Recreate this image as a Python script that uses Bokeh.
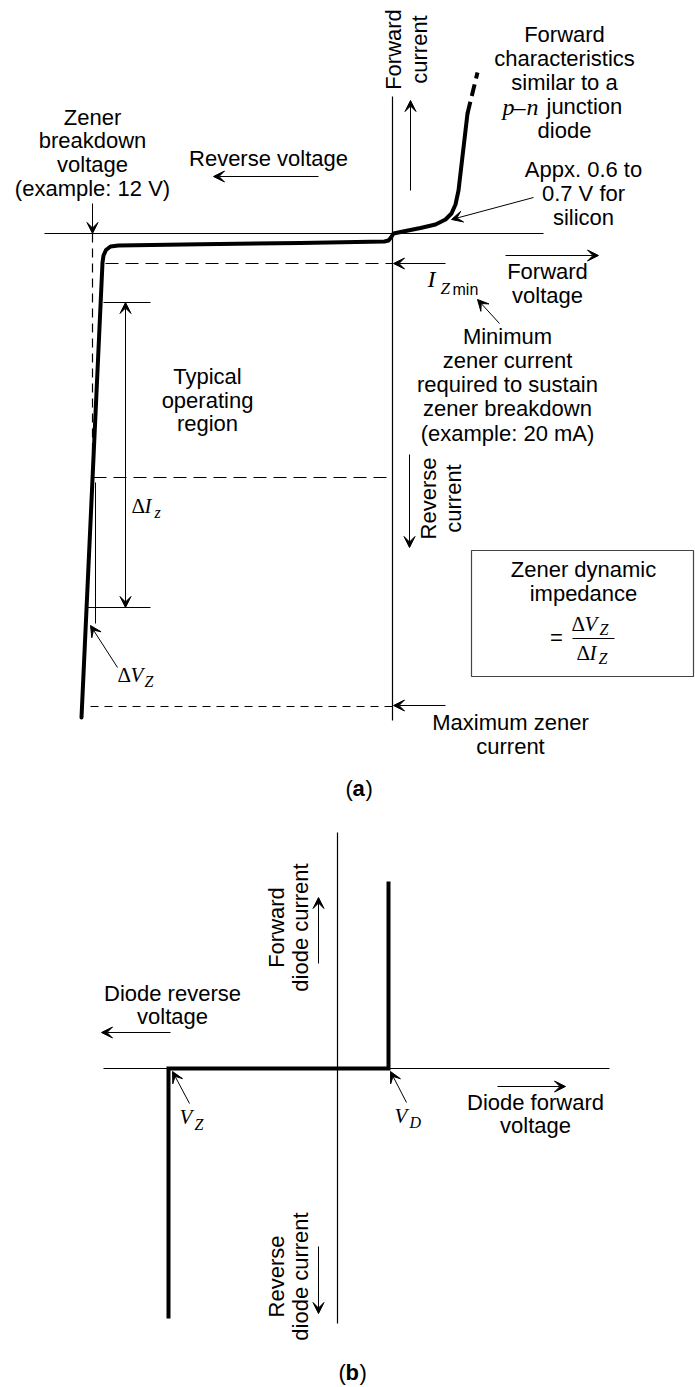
import math
from bokeh.plotting import figure
from bokeh.models import Range1d, Arrow, VeeHead, ColumnDataSource
from bokeh.core.properties import value
from bokeh.embed import file_html
from bokeh.resources import INLINE

W, H = 695, 1387
SANS = "Liberation Sans"
SERIF = "Liberation Serif"
FS = "22px"

# ---------------- data (drawing units, y grows downward) ----------------
# Panel (a): zener characteristic curve
zener_v = [81, 102, 103, 105.5, 110, 118, 200, 300, 384, 388, 390.5, 393,
           405, 420, 435, 445, 451, 455, 458, 467]
zener_i = [717, 262, 255, 249.5, 246, 245, 243.8, 242.5, 241, 240, 237, 233,
           230.5, 227.5, 224, 219, 213, 204, 190, 113]
zener_ext_v = [467, 477]
zener_ext_i = [113, 72]

# Panel (b): ideal zener characteristic
ideal_v = [168, 168, 388, 388]
ideal_i = [1318, 1068, 1068, 881]

# axes lines (x0, y0, x1, y1)
axis_lines = [(44, 233, 543, 233), (392, 96, 392, 720),
              (103, 1068, 609, 1068), (337, 832, 337, 1323)]
thin_lines = [(103, 302, 150, 302), (87, 607, 150, 607), (95, 482, 95, 623),
              (572, 638, 614, 638)]
dashed_lines = [(92, 233, 92, 478, "9 6"), (105, 263, 392, 263, "13 7"),
                (93, 477, 392, 477, "13 7"), (90, 706, 392, 706, "8 6")]

# arrows with head at end (x0, y0, x1, y1)
arrows = [(92, 203, 92, 233), (318, 176, 213, 176), (410, 190, 410, 100),
          (533, 197, 451, 219), (505, 255, 598, 255), (445, 263, 393, 263),
          (499, 323, 477, 299), (409, 454, 409, 547), (445, 705, 393, 705),
          (117, 667, 90, 625),
          (318, 963, 318, 897), (170, 1032, 101, 1032), (189, 1103, 172, 1071),
          (406, 1102, 390, 1071), (497, 1086, 565, 1086), (318, 1246, 318, 1313)]
double_arrows = [(125, 302, 125, 607)]

# plain text lines (x, y, text)
labels = [
    (92, 117, "Zener"), (92, 140, "breakdown"), (92, 164, "voltage"),
    (92, 188, "(example: 12 V)"),
    (268, 158, "Reverse voltage"),
    (564, 34, "Forward"), (564, 58, "characteristics"), (564, 82, "similar to a"),
    (564, 130, "diode"),
    (583, 169, "Appx. 0.6 to"), (583, 193, "0.7 V for"), (583, 217, "silicon"),
    (547, 271, "Forward"), (547, 295, "voltage"),
    (507, 336, "Minimum"), (507, 360, "zener current"),
    (507, 384, "required to sustain"), (507, 408, "zener breakdown"),
    (507, 433, "(example: 20 mA)"),
    (207, 376, "Typical"), (207, 400, "operating"), (207, 423, "region"),
    (583, 569, "Zener dynamic"), (583, 593, "impedance"),
    (556, 637, "="),
    (510, 722, "Maximum zener"), (510, 746, "current"),
    (172, 993, "Diode reverse"), (172, 1016, "voltage"),
    (535, 1102, "Diode forward"), (535, 1125, "voltage"),
]
rot_labels = [
    (393, 49, "Forward"), (419, 49, "current"),
    (428, 498, "Reverse"), (453, 498, "current"),
    (276, 927, "Forward"), (300, 927, "diode current"),
    (276, 1276, "Reverse"), (300, 1276, "diode current"),
]
# math / mixed pieces (x_left, y_middle, text, font, style, size)
math_pieces = [
    (427, 278, "I", SERIF, "italic", "24px"), (440, 288, "Z", SERIF, "italic", "17px"),
    (452, 289, "min", SANS, "normal", "16px"),
    (131, 505, "Δ", SERIF, "normal", "21px"), (144, 505, "I", SERIF, "italic", "21px"),
    (154, 512, "z", SERIF, "italic", "16px"),
    (117, 674, "Δ", SERIF, "normal", "21px"), (130, 674, "V", SERIF, "italic", "21px"),
    (144, 681, "Z", SERIF, "italic", "16px"),
    (571, 623, "Δ", SERIF, "normal", "21px"), (584, 623, "V", SERIF, "italic", "21px"),
    (599, 629, "Z", SERIF, "italic", "16px"),
    (576, 652, "Δ", SERIF, "normal", "21px"), (589, 652, "I", SERIF, "italic", "21px"),
    (598, 658, "Z", SERIF, "italic", "16px"),
    (502, 106, "p", SERIF, "italic", "24px"), (513, 106, "–", SERIF, "normal", "24px"),
    (526, 106, "n", SERIF, "italic", "24px"),
    (546, 106, "junction", SANS, "normal", "22px"),
    (179, 1116, "V", SERIF, "italic", "21px"), (194, 1124, "Z", SERIF, "italic", "16px"),
    (394, 1115, "V", SERIF, "italic", "21px"), (409, 1122, "D", SERIF, "italic", "16px"),
    (345, 788, "(", SANS, "normal", "22px"), (352, 788, "a", SANS, "bold", "22px"),
    (365, 788, ")", SANS, "normal", "22px"),
    (338, 1372, "(", SANS, "normal", "22px"), (345, 1372, "b", SANS, "bold", "22px"),
    (359, 1372, ")", SANS, "normal", "22px"),
]
box = (471, 693, 550, 676)  # left, right, top, bottom

# ---------------- figure ----------------
p = figure(width=W, height=H, x_range=Range1d(0, W), y_range=Range1d(H, 0),
           output_backend="svg", toolbar_location=None,
           x_axis_type=None, y_axis_type=None, min_border=0)
p.grid.visible = False
p.outline_line_color = None
p.background_fill_color = "white"
p.border_fill_color = "white"

p.line(zener_v, zener_i, line_width=4, line_color="black", line_join="round", line_cap="round")
p.line(zener_ext_v, zener_ext_i, line_width=4, line_color="black", line_dash="12 6")
p.line(ideal_v, ideal_i, line_width=4, line_color="black", line_join="miter")

for x0, y0, x1, y1 in axis_lines:
    p.line([x0, x1], [y0, y1], line_width=1.2, line_color="black")
for x0, y0, x1, y1 in thin_lines:
    p.line([x0, x1], [y0, y1], line_width=1, line_color="black")
for x0, y0, x1, y1, d in dashed_lines:
    p.line([x0, x1], [y0, y1], line_width=1.2, line_color="black", line_dash=d)

l, r, t, b = box
p.quad(left=[l], right=[r], top=[t], bottom=[b], fill_alpha=0,
       line_color="#444444", line_width=1.2)

src = ColumnDataSource(dict(x0=[a[0] for a in arrows], y0=[a[1] for a in arrows],
                            x1=[a[2] for a in arrows], y1=[a[3] for a in arrows]))
p.add_layout(Arrow(source=src, x_start="x0", y_start="y0", x_end="x1", y_end="y1",
                   line_width=1, line_color="black",
                   end=VeeHead(size=11, fill_color="black", line_color="black", line_width=1)))
src2 = ColumnDataSource(dict(x0=[a[0] for a in double_arrows], y0=[a[1] for a in double_arrows],
                             x1=[a[2] for a in double_arrows], y1=[a[3] for a in double_arrows]))
p.add_layout(Arrow(source=src2, x_start="x0", y_start="y0", x_end="x1", y_end="y1",
                   line_width=1, line_color="black",
                   start=VeeHead(size=11, fill_color="black", line_color="black", line_width=1),
                   end=VeeHead(size=11, fill_color="black", line_color="black", line_width=1)))

p.text(x=[t[0] for t in labels], y=[t[1] for t in labels], text=[t[2] for t in labels],
       text_font=value(SANS), text_font_size=FS, text_color="black",
       text_align="center", text_baseline="middle")
p.text(x=[t[0] for t in rot_labels], y=[t[1] for t in rot_labels], text=[t[2] for t in rot_labels],
       text_font=value(SANS), text_font_size=FS, text_color="black",
       text_align="center", text_baseline="middle", angle=math.pi / 2)
for x, y, s, f, st, sz in math_pieces:
    p.text(x=[x], y=[y], text=[s], text_font=value(f), text_font_style=st,
           text_font_size=sz, text_color="black", text_align="left",
           text_baseline="middle")

open("out.html", "w").write(file_html(p, INLINE))
